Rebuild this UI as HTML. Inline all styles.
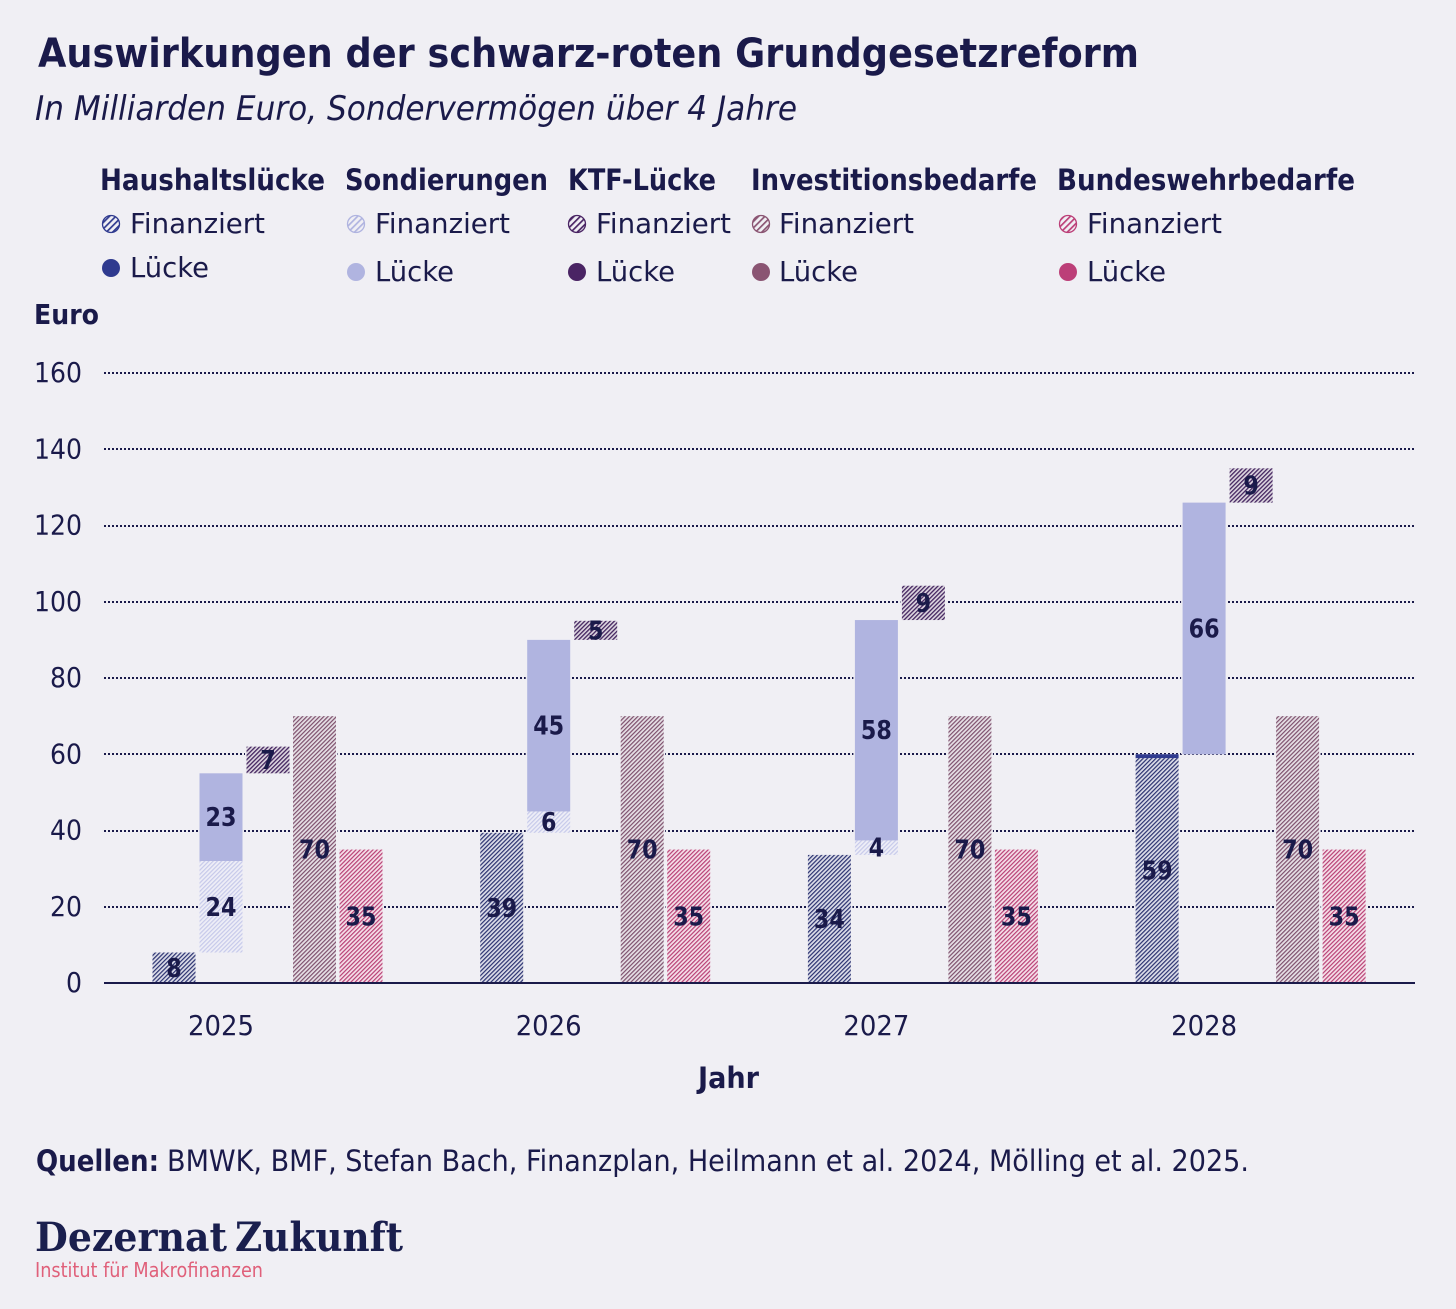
<!DOCTYPE html>
<html lang="de">
<head>
<meta charset="utf-8">
<title>Auswirkungen der schwarz-roten Grundgesetzreform</title>
<style>
html,body{margin:0;padding:0;background:#f0eff4;}
svg{display:block;}
text{font-family:"DejaVu Sans","Liberation Sans",sans-serif;fill:#1a1a4a;}
</style>
</head>
<body>
<svg id="chart" xmlns="http://www.w3.org/2000/svg" width="1456" height="1309" viewBox="0 0 1456 1309">
<defs>
<pattern id="h-haus" width="3" height="3" patternUnits="userSpaceOnUse" patternTransform="rotate(-45)"><rect width="3" height="3" fill="#dcdde9"/><rect width="3" height="1.2" fill="#2a3170"/></pattern>
<pattern id="h-sond" width="3" height="3" patternUnits="userSpaceOnUse" patternTransform="rotate(-45)"><rect width="3" height="3" fill="#eeeef7"/><rect width="3" height="1.2" fill="#c6c9ea"/></pattern>
<pattern id="h-ktf" width="3" height="3" patternUnits="userSpaceOnUse" patternTransform="rotate(-45)"><rect width="3" height="3" fill="#ddd6e0"/><rect width="3" height="1.3" fill="#43245f"/></pattern>
<pattern id="h-inv" width="3" height="3" patternUnits="userSpaceOnUse" patternTransform="rotate(-45)"><rect width="3" height="3" fill="#e6e0e6"/><rect width="3" height="1.2" fill="#7d4f6c"/></pattern>
<pattern id="h-bund" width="3" height="3" patternUnits="userSpaceOnUse" patternTransform="rotate(-45)"><rect width="3" height="3" fill="#f5dfe9"/><rect width="3" height="1.2" fill="#b83f74"/></pattern>
<pattern id="l-haus" width="4.5" height="4.5" patternUnits="userSpaceOnUse" patternTransform="rotate(-45)"><rect width="4.5" height="4.5" fill="#f0eff4"/><rect width="4.5" height="1.7" fill="#2f3a8f"/></pattern>
<pattern id="l-sond" width="4.5" height="4.5" patternUnits="userSpaceOnUse" patternTransform="rotate(-45)"><rect width="4.5" height="4.5" fill="#f0eff4"/><rect width="4.5" height="1.7" fill="#b0b4e0"/></pattern>
<pattern id="l-ktf" width="4.5" height="4.5" patternUnits="userSpaceOnUse" patternTransform="rotate(-45)"><rect width="4.5" height="4.5" fill="#f0eff4"/><rect width="4.5" height="1.7" fill="#4a2464"/></pattern>
<pattern id="l-inv" width="4.5" height="4.5" patternUnits="userSpaceOnUse" patternTransform="rotate(-45)"><rect width="4.5" height="4.5" fill="#f0eff4"/><rect width="4.5" height="1.7" fill="#8a5472"/></pattern>
<pattern id="l-bund" width="4.5" height="4.5" patternUnits="userSpaceOnUse" patternTransform="rotate(-45)"><rect width="4.5" height="4.5" fill="#f0eff4"/><rect width="4.5" height="1.7" fill="#bc3f78"/></pattern>
</defs>
<rect width="1456" height="1309" fill="#f0eff4"/>

<text x="38" y="67" font-size="40" font-weight="700" textLength="1101" lengthAdjust="spacingAndGlyphs">Auswirkungen der schwarz-roten Grundgesetzreform</text>
<text x="35" y="120" font-size="34" font-style="italic" textLength="762" lengthAdjust="spacingAndGlyphs">In Milliarden Euro, Sondervermögen über 4 Jahre</text>

<g font-size="28">
<text x="100" y="190" font-weight="700" font-size="29" textLength="225" lengthAdjust="spacingAndGlyphs">Haushaltslücke</text>
<circle cx="111" cy="224" r="8.5" fill="url(#l-haus)" stroke="#2f3a8f" stroke-width="1.3"/>
<text x="130" y="233" textLength="135" lengthAdjust="spacingAndGlyphs">Finanziert</text>
<circle cx="111" cy="268" r="9" fill="#2f3a8f"/>
<text x="130" y="277" textLength="79" lengthAdjust="spacingAndGlyphs">Lücke</text>

<text x="345" y="190" font-size="29" font-weight="700" textLength="203" lengthAdjust="spacingAndGlyphs">Sondierungen</text>
<circle cx="356" cy="224" r="8.5" fill="url(#l-sond)" stroke="#b0b4e0" stroke-width="1.3"/>
<text x="375" y="233" textLength="135" lengthAdjust="spacingAndGlyphs">Finanziert</text>
<circle cx="356" cy="272" r="9" fill="#b0b4e0"/>
<text x="375" y="281" textLength="79" lengthAdjust="spacingAndGlyphs">Lücke</text>

<text x="568" y="190" font-size="29" font-weight="700" textLength="148" lengthAdjust="spacingAndGlyphs">KTF-Lücke</text>
<circle cx="577" cy="224" r="8.5" fill="url(#l-ktf)" stroke="#4a2464" stroke-width="1.3"/>
<text x="596" y="233" textLength="135" lengthAdjust="spacingAndGlyphs">Finanziert</text>
<circle cx="577" cy="272" r="9" fill="#4a2464"/>
<text x="596" y="281" textLength="79" lengthAdjust="spacingAndGlyphs">Lücke</text>

<text x="751" y="190" font-size="29" font-weight="700" textLength="286" lengthAdjust="spacingAndGlyphs">Investitionsbedarfe</text>
<circle cx="761" cy="224" r="8.5" fill="url(#l-inv)" stroke="#8a5472" stroke-width="1.3"/>
<text x="779" y="233" textLength="135" lengthAdjust="spacingAndGlyphs">Finanziert</text>
<circle cx="761" cy="272" r="9" fill="#8a5472"/>
<text x="779" y="281" textLength="79" lengthAdjust="spacingAndGlyphs">Lücke</text>

<text x="1057" y="190" font-size="29" font-weight="700" textLength="298" lengthAdjust="spacingAndGlyphs">Bundeswehrbedarfe</text>
<circle cx="1068" cy="224" r="8.5" fill="url(#l-bund)" stroke="#bc3f78" stroke-width="1.3"/>
<text x="1087" y="233" textLength="135" lengthAdjust="spacingAndGlyphs">Finanziert</text>
<circle cx="1068" cy="272" r="9" fill="#bc3f78"/>
<text x="1087" y="281" textLength="79" lengthAdjust="spacingAndGlyphs">Lücke</text>
</g>

<text x="34" y="324" font-size="28" font-weight="700" textLength="65" lengthAdjust="spacingAndGlyphs">Euro</text>
<g id="grid"></g>
<g id="bars"></g>
<g id="axis"></g>
<g id="values"></g>
<text x="698" y="1088" font-size="29" font-weight="700" textLength="61" lengthAdjust="spacingAndGlyphs">Jahr</text>

<text x="36" y="1171" font-size="29" font-weight="700" textLength="123" lengthAdjust="spacingAndGlyphs">Quellen:</text>
<text x="167" y="1171" font-size="29" textLength="1082" lengthAdjust="spacingAndGlyphs">BMWK, BMF, Stefan Bach, Finanzplan, Heilmann et al. 2024, Mölling et al. 2025.</text>

<text x="35" y="1251" font-size="40" font-weight="700" textLength="192" lengthAdjust="spacingAndGlyphs" style="font-family:'DejaVu Serif','Liberation Serif',serif;fill:#1a1f4e">Dezernat</text>
<text x="235" y="1251" font-size="40" font-weight="700" textLength="168" lengthAdjust="spacingAndGlyphs" style="font-family:'DejaVu Serif','Liberation Serif',serif;fill:#1a1f4e">Zukunft</text>
<text x="35" y="1277" font-size="20" textLength="228" lengthAdjust="spacingAndGlyphs" style="fill:#e0607a">Institut für Makrofinanzen</text>
</svg>
<script>
const years = ['2025', '2026', '2027', '2028'];
const yTicks = [0, 20, 40, 60, 80, 100, 120, 140, 160];
const haushaltFinanziert = [8, 39.4, 33.6, 59];
const haushaltLuecke = [0, 0, 0, 1];
const sondierungenFinanziert = [24, 5.6, 3.8, 0];
const sondierungenLuecke = [23, 45, 57.8, 66];
const ktfFinanziert = [7, 5, 9, 9];
const investitionFinanziert = [70, 70, 70, 70];
const bundeswehrFinanziert = [35, 35, 35, 35];

const NS = 'http://www.w3.org/2000/svg';
const bg = '#f0eff4';
const y0 = 983, unit = 610 / 160;
const yScale = v => y0 - v * unit;
const xCenter = i => 221 + i * 327.7;
const barW = 43;
const off = { haushalt: -47, sond: 0, ktf: 47, inv: 93.5, bund: 140 };
const gridG = document.getElementById('grid');
const barsG = document.getElementById('bars');
const axisG = document.getElementById('axis');
const valuesG = document.getElementById('values');

function make(tag, parent, attrs) {
  const el = document.createElementNS(NS, tag);
  for (const k in attrs) el.setAttribute(k, attrs[k]);
  parent.appendChild(el);
  return el;
}

yTicks.forEach(t => {
  const y = yScale(t);
  if (t > 0) {
    const line = make('line', gridG, { x1: 104, x2: 1415, y1: Math.round(y), y2: Math.round(y), stroke: '#1a1a4a', 'stroke-width': 2, 'stroke-dasharray': '2 2' });
    
    
  }
  const label = make('text', gridG, { x: 82, y: y + 9, 'font-size': 27.5, 'text-anchor': 'end', textLength: String(t).length * 16, lengthAdjust: 'spacingAndGlyphs' });
  label.textContent = t;
  
  
});

function drawBar(i, offset, base, value, fill, shown) {
  if (value <= 0) return;
  const top = yScale(base + value);
  const h = value * unit;
  const x = xCenter(i) + offset - barW / 2;
  const r = make('rect', barsG, { x: x, y: top, width: barW, height: h, fill: fill });
  
  
  const halo = make('rect', gridG, { x: x - 1.5, y: top, width: barW + 3, height: h, fill: bg });
  
  
  if (shown) {
    const t = make('text', valuesG, { x: x + barW / 2, y: top + h / 2 + 9, 'font-size': 26, 'font-weight': 700, 'text-anchor': 'middle', textLength: String(Math.round(value)).length * 15.5, lengthAdjust: 'spacingAndGlyphs' });
    t.textContent = Math.round(value);
    
    
  }
}

years.forEach((yr, i) => {
  const hf = haushaltFinanziert[i], hl = haushaltLuecke[i];
  drawBar(i, off.haushalt, 0, hf, 'url(#h-haus)', true);
  drawBar(i, off.haushalt, hf, hl, '#2f3a8f', false);
  const hTotal = hf + hl;
  const sf = sondierungenFinanziert[i], sl = sondierungenLuecke[i];
  drawBar(i, off.sond, hTotal, sf, 'url(#h-sond)', true);
  drawBar(i, off.sond, hTotal + sf, sl, '#b0b4e0', true);
  drawBar(i, off.ktf, hTotal + sf + sl, ktfFinanziert[i], 'url(#h-ktf)', true);
  drawBar(i, off.inv, 0, investitionFinanziert[i], 'url(#h-inv)', true);
  drawBar(i, off.bund, 0, bundeswehrFinanziert[i], 'url(#h-bund)', true);
  const label = make('text', axisG, { x: xCenter(i), y: 1035, 'font-size': 27.5, 'text-anchor': 'middle', textLength: 66, lengthAdjust: 'spacingAndGlyphs' });
  label.textContent = yr;
  
  
});

const baseline = make('line', axisG, { x1: 104, x2: 1415, y1: y0, y2: y0, stroke: '#1a1a4a', 'stroke-width': 2 });


</script>
</body>
</html>
